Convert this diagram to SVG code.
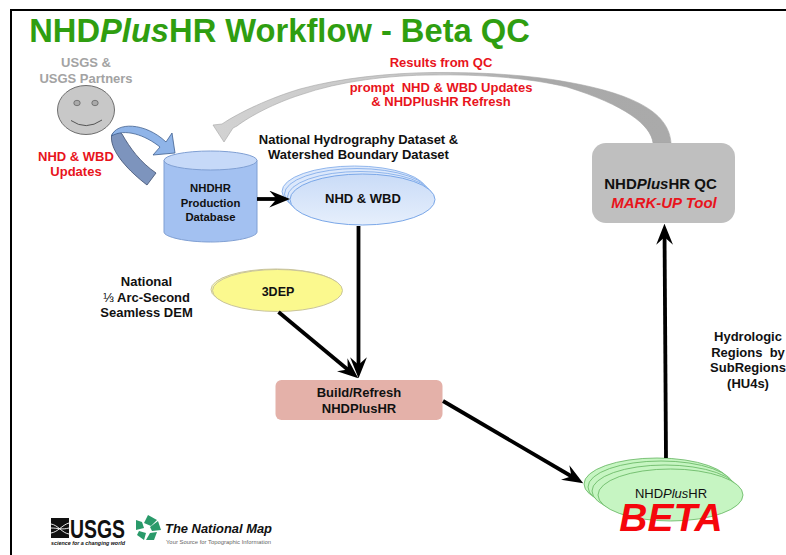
<svg xmlns="http://www.w3.org/2000/svg" width="786" height="555" viewBox="0 0 786 555">
<style>
text{font-family:"Liberation Sans",Arial,sans-serif;font-weight:bold;text-anchor:middle;font-size:13px;fill:#111}
.r{fill:#e8141c}
.g{fill:#a3a3a3}
.db{font-size:11.300px}
.qc{font-size:15px}
.conn{fill:none;stroke:#000;stroke-width:3.800;marker-end:url(#stealth)}
.blue{fill:#dce8fb;stroke:#7aa7e8;stroke-width:.8}
.green{fill:#c6f5c2;stroke:#62b45e;stroke-width:.8}
</style>
<defs>
<linearGradient id="bl" x1="0" y1="0" x2="0" y2="1"><stop offset="0" stop-color="#c9dbf7"/><stop offset="1" stop-color="#e6effc"/></linearGradient>
<linearGradient id="fb" gradientUnits="userSpaceOnUse" x1="213" y1="0" x2="671" y2="0"><stop offset="0" stop-color="#d2d2d2"/><stop offset=".45" stop-color="#c6c6c6"/><stop offset=".7" stop-color="#a9a9a9"/><stop offset="1" stop-color="#aaa"/></linearGradient>
<marker id="stealth" markerUnits="userSpaceOnUse" markerWidth="21" markerHeight="17" viewBox="0 0 20 16" refX="14" refY="8" orient="auto"><path d="M0 0L20 8L0 16L7 8Z" fill="#000"/></marker>
</defs>
<rect width="786" height="555" fill="#fff"/>
<path d="M11 555V10H786" fill="none" stroke="#000" stroke-width="2"/>
<text x="279.500" y="42" style="font-size:32.700px;fill:#2f9e10">NHD<tspan font-style="italic">Plus</tspan>HR Workflow - Beta QC</text>

<g id="feedback-arrow">
<path d="M671 143C669 115 640 95 567 82C530 75 480 72 433 72.500C390 73 340 78 300 89C270 98 240 112 222 124L213 125L224 142L233 128L237 126C250 116 275 103 300 95C340 81 390 75 433 75C480 74 530 78 567 87C625 105 651 125 653 143Z" fill="url(#fb)" stroke="#a5a5a5" stroke-width=".6"/>
</g>

<g id="usgs-partners">
<text x="86" y="67" class="g">USGS &amp;</text>
<text x="86" y="82.500" class="g">USGS Partners</text>
<ellipse cx="86" cy="110" rx="28.500" ry="24.500" fill="#c8c8c8" stroke="#6e6e6e" stroke-width="1"/>
<ellipse cx="77" cy="103" rx="3.200" ry="2.700" fill="#aaa" stroke="#666" stroke-width=".8"/>
<ellipse cx="95" cy="103" rx="3.200" ry="2.700" fill="#aaa" stroke="#666" stroke-width=".8"/>
<path d="M71 120.500Q86 131 102 120" fill="none" stroke="#555" stroke-width="1"/>
<path d="M111.500 136C110 152 130 172 147 185L156 173C140 162 130 148 122 134C118 130 113 131 111.500 136Z" fill="#7d94bd" stroke="#3f4f70" stroke-width=".8"/>
<path d="M111.500 136C116 122 145 122 166 142L172 133L175 153L153 155L160 147C145 135 125 128 111.500 136Z" fill="#8fb4e8" stroke="#3f5f8f" stroke-width=".8"/>
<text x="76" y="161" class="r">NHD &amp; WBD</text>
<text x="76" y="176" class="r">Updates</text>
</g>

<g id="production-db">
<path d="M164 160.500V232C164 237 186 242 210.500 242C235 242 257 237 257 232V160.500Z" fill="#a3c1f1" stroke="#7f9fd3" stroke-width="1"/>
<ellipse cx="210.500" cy="160.500" rx="46.500" ry="9.500" fill="#c6d9f8" stroke="#7f9fd3" stroke-width="1"/>
<text x="210.500" y="192" class="db">NHDHR</text>
<text x="210.500" y="207" class="db">Production</text>
<text x="210.500" y="221" class="db">Database</text>
</g>

<g id="nhd-wbd">
<text x="358.500" y="143.500">National Hydrography Dataset &amp;</text>
<text x="358.500" y="159">Watershed Boundary Dataset</text>
<ellipse cx="354.500" cy="191.500" rx="72.500" ry="25.500" class="blue"/>
<ellipse cx="357" cy="194" rx="72.500" ry="25.500" class="blue"/>
<ellipse cx="360" cy="197" rx="72.500" ry="25.500" class="blue"/>
<ellipse cx="362.500" cy="199.500" rx="72.500" ry="25.500" fill="url(#bl)" stroke="#7aa7e8" stroke-width="1"/>
<text x="363" y="203">NHD &amp; WBD</text>
</g>

<g id="dep3">
<text x="146.500" y="286">National</text>
<text x="146.500" y="301.500"><tspan style="font-weight:normal">⅓</tspan> Arc-Second</text>
<text x="146.500" y="317">Seamless DEM</text>
<ellipse cx="276" cy="289.500" rx="65" ry="20.500" fill="#f8f8b4" stroke="#c9c49c" stroke-width="1"/>
<ellipse cx="277.500" cy="290.500" rx="65" ry="21" fill="#fbf98e" stroke="#c9c49c" stroke-width="1"/>
<text x="278" y="296" style="font-size:12.500px">3DEP</text>
</g>

<g id="build">
<rect x="275.500" y="380" width="167" height="40" rx="6" fill="#e4b1a9"/>
<text x="359" y="397">Build/Refresh</text>
<text x="359" y="412.500">NHDPlusHR</text>
</g>

<g id="qc-tool">
<rect x="592" y="143" width="143" height="80" rx="14" fill="#bfbfbf"/>
<text x="660.500" y="189" class="qc">NHD<tspan font-style="italic">Plus</tspan>HR QC</text>
<text x="664" y="207.500" class="r qc" style="font-style:italic">MARK-UP Tool</text>
</g>

<g id="hu-label">
<text x="748" y="341">Hydrologic</text>
<text x="748" y="356.500">Regions&#160; by</text>
<text x="748" y="372">SubRegions</text>
<text x="748" y="387.500">(HU4s)</text>
</g>

<g id="beta">
<ellipse cx="657" cy="484" rx="73" ry="26" class="green"/>
<ellipse cx="661" cy="487" rx="73" ry="26" class="green"/>
<ellipse cx="665" cy="491" rx="73" ry="26" class="green"/>
<ellipse cx="670.500" cy="495" rx="72.500" ry="26" class="green"/>
<text x="671" y="498" style="font-weight:normal;font-size:13px">NHD<tspan font-style="italic">Plus</tspan>HR</text>
<text x="671" y="531" class="r" style="font-size:39px;font-style:italic;fill:#f5060c">BETA</text>
</g>

<g id="connectors">
<path class="conn" d="M257 199H284"/>
<path class="conn" d="M358.500 226V372"/>
<path class="conn" d="M278.500 312L353.400 374.200"/>
<path class="conn" d="M443 401L577.800 480"/>
<path class="conn" d="M666 458L664.500 230"/>
</g>

<g id="logos">
<rect x="51" y="518" width="18" height="20" fill="#111"/>
<path d="M51 524C58 525 62 533 69 534M51 533C58 532 62 525 69 523M51 528C58 528 62 530 69 528" fill="none" stroke="#fff" stroke-width=".9"/>
<text x="97.500" y="538" style="font-size:26px;fill:#111" textLength="55" lengthAdjust="spacingAndGlyphs">USGS</text>
<text x="88" y="545" style="font-size:5px;font-style:italic" textLength="74" lengthAdjust="spacingAndGlyphs">science for a changing world</text>
<g fill="#2a9a6a">
<path d="M148 515L157 520L151 526L144 523Z"/>
<path d="M158 521L161 530L152 531L150 527Z"/>
<path d="M150 533L157 532L154 540L146 540Z"/>
<path d="M146 533L144 540L137 535L139 531Z"/>
<path d="M136 530L136 520L142 522L144 528Z"/>
</g>
<text x="218.500" y="533" style="font-size:13.500px;font-style:italic" textLength="107" lengthAdjust="spacingAndGlyphs">The National Map</text>
<text x="218.500" y="544" style="font-size:5.300px;font-weight:normal;fill:#666" textLength="105" lengthAdjust="spacingAndGlyphs">Your Source for Topographic Information</text>
</g>

<g id="qc-labels">
<text x="441" y="67" class="r">Results from QC</text>
<text x="441" y="91.500" class="r">prompt&#160; NHD &amp; WBD Updates</text>
<text x="441" y="106" class="r">&amp; NHDPlusHR Refresh</text>
</g>
</svg>
